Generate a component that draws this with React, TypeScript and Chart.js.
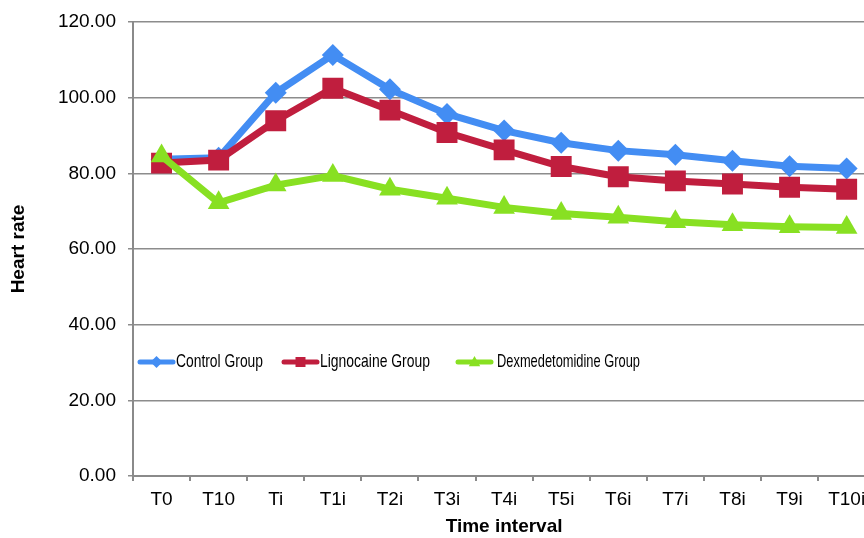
import React, { useEffect, useRef } from 'react';
import { Chart, registerables } from 'chart.js';

Chart.register(...registerables);

const categories = ['T0', 'T10', 'Ti', 'T1i', 'T2i', 'T3i', 'T4i', 'T5i', 'T6i', 'T7i', 'T8i', 'T9i', 'T10i'];
const controlGroup = [83.7, 84.1, 101.3, 111.3, 102.2, 95.7, 91.3, 88.1, 86.0, 84.9, 83.3, 81.9, 81.3];
const lignocaineGroup = [82.7, 83.5, 93.9, 102.5, 96.7, 90.8, 86.2, 81.8, 79.1, 78.0, 77.2, 76.3, 75.8];
const dexmedetomidineGroup = [84.6, 72.2, 76.9, 79.4, 75.8, 73.4, 71.0, 69.4, 68.4, 67.2, 66.4, 65.9, 65.7];
const seriesNames = ['Control Group', 'Lignocaine Group', 'Dexmedetomidine Group'];
const yMin = 0;
const yMax = 120;
const yStep = 20;

const BLUE = '#438DF3';
const RED = '#C01E3E';
const GREEN = '#88E022';
const FONT = "'Liberation Sans', Arial, sans-serif";

type Shape = 'diamond' | 'square' | 'triangle';

function drawShape(ctx: CanvasRenderingContext2D, shape: Shape, x: number, y: number, r: number) {
  ctx.beginPath();
  if (shape === 'diamond') {
    ctx.moveTo(x, y - r);
    ctx.lineTo(x + r, y);
    ctx.lineTo(x, y + r);
    ctx.lineTo(x - r, y);
  } else if (shape === 'square') {
    ctx.rect(x - r, y - r, 2 * r, 2 * r);
  } else {
    ctx.moveTo(x, y - r);
    ctx.lineTo(x + r * 0.95, y + r * 0.7);
    ctx.lineTo(x - r * 0.95, y + r * 0.7);
  }
  ctx.closePath();
  ctx.fill();
}

const legendPlugin = {
  id: 'customLegend',
  afterDatasetsDraw(chart: any) {
    const ctx: CanvasRenderingContext2D = chart.ctx;
    const area = chart.chartArea;
    const y = area.top + 340;
    const items = [
      { color: BLUE, shape: 'diamond' as Shape, r: 6, x: area.left + 7, len: 33, w: 87 },
      { color: RED, shape: 'square' as Shape, r: 5, x: area.left + 151, len: 33, w: 110 },
      { color: GREEN, shape: 'triangle' as Shape, r: 6, x: area.left + 325, len: 33, w: 143 },
    ];
    ctx.save();
    items.forEach((it, i) => {
      ctx.strokeStyle = it.color;
      ctx.fillStyle = it.color;
      ctx.lineWidth = 5;
      ctx.lineCap = 'round';
      ctx.beginPath();
      ctx.moveTo(it.x, y);
      ctx.lineTo(it.x + it.len, y);
      ctx.stroke();
      drawShape(ctx, it.shape, it.x + it.len / 2, y, it.r);
      ctx.fillStyle = '#000';
      ctx.font = `19px ${FONT}`;
      ctx.textAlign = 'left';
      ctx.textBaseline = 'middle';
      const tx = it.x + it.len + (i === 2 ? 6 : 3);
      ctx.fillText(seriesNames[i], tx, y, it.w);
    });
    ctx.restore();
  },
};

export default function App() {
  const canvasRef = useRef<HTMLCanvasElement | null>(null);

  useEffect(() => {
    if (!canvasRef.current) return;
    const chart = new Chart(canvasRef.current, {
      type: 'line',
      data: {
        labels: categories,
        datasets: [
          {
            label: seriesNames[0],
            data: controlGroup,
            borderColor: BLUE,
            backgroundColor: BLUE,
            borderWidth: 7,
            pointStyle: 'rectRot',
            pointRadius: 11,
            pointBorderWidth: 0,
            pointBackgroundColor: BLUE,
            tension: 0,
            order: 3,
          },
          {
            label: seriesNames[1],
            data: lignocaineGroup,
            borderColor: RED,
            backgroundColor: RED,
            borderWidth: 7,
            pointStyle: 'rect',
            pointRadius: 14.8,
            pointBorderWidth: 0,
            pointBackgroundColor: RED,
            tension: 0,
            order: 2,
          },
          {
            label: seriesNames[2],
            data: dexmedetomidineGroup,
            borderColor: GREEN,
            backgroundColor: GREEN,
            borderWidth: 7,
            pointStyle: 'triangle',
            pointRadius: 12.5,
            pointBorderWidth: 0,
            pointBackgroundColor: GREEN,
            tension: 0,
            order: 1,
          },
        ],
      },
      options: {
        animation: false,
        responsive: false,
        layout: { padding: { left: 0, top: 22, right: 5, bottom: 0 } },
        plugins: {
          legend: { display: false },
          tooltip: { enabled: false },
        },
        scales: {
          x: {
            offset: true,
            grid: {
              offset: true,
              drawOnChartArea: false,
              drawTicks: true,
              tickLength: 5,
              color: '#8a8a8a',
              lineWidth: 2,
            },
            border: { color: '#8a8a8a', width: 2 },
            ticks: {
              color: '#000',
              font: { family: FONT, size: 19 },
              padding: 7,
              maxRotation: 0,
              autoSkip: false,
            },
            title: {
              display: true,
              text: 'Time interval',
              color: '#000',
              font: { family: FONT, size: 19, weight: 'bold' },
              padding: { top: 1, bottom: 0 },
            },
            afterFit: (scale: any) => {
              scale.height = 62;
              scale.paddingLeft = 0;
              scale.paddingRight = 0;
            },
          },
          y: {
            min: yMin,
            max: yMax,
            grid: {
              color: '#8c8c8c',
              lineWidth: 1.5,
              drawTicks: true,
              tickLength: 5,
            },
            border: { color: '#8a8a8a', width: 2 },
            ticks: {
              stepSize: yStep,
              color: '#000',
              font: { family: FONT, size: 19 },
              padding: 12,
              callback: (v: any) => Number(v).toFixed(2),
            },
            title: {
              display: true,
              text: 'Heart rate',
              color: '#000',
              font: { family: FONT, size: 19, weight: 'bold' },
              padding: { top: 7, bottom: 0 },
            },
            afterFit: (scale: any) => {
              scale.width = 133;
              scale.paddingTop = 0;
              scale.paddingBottom = 0;
            },
          },
        },
      },
      plugins: [legendPlugin],
    });
    return () => chart.destroy();
  }, []);

  return (
    <div
      style={{
        position: 'fixed',
        left: 0,
        top: 0,
        width: 864,
        height: 538,
        overflow: 'hidden',
        background: '#fff',
      }}
    >
      <canvas ref={canvasRef} width={890} height={538} style={{ display: 'block', width: 890, height: 538 }} />
    </div>
  );
}
